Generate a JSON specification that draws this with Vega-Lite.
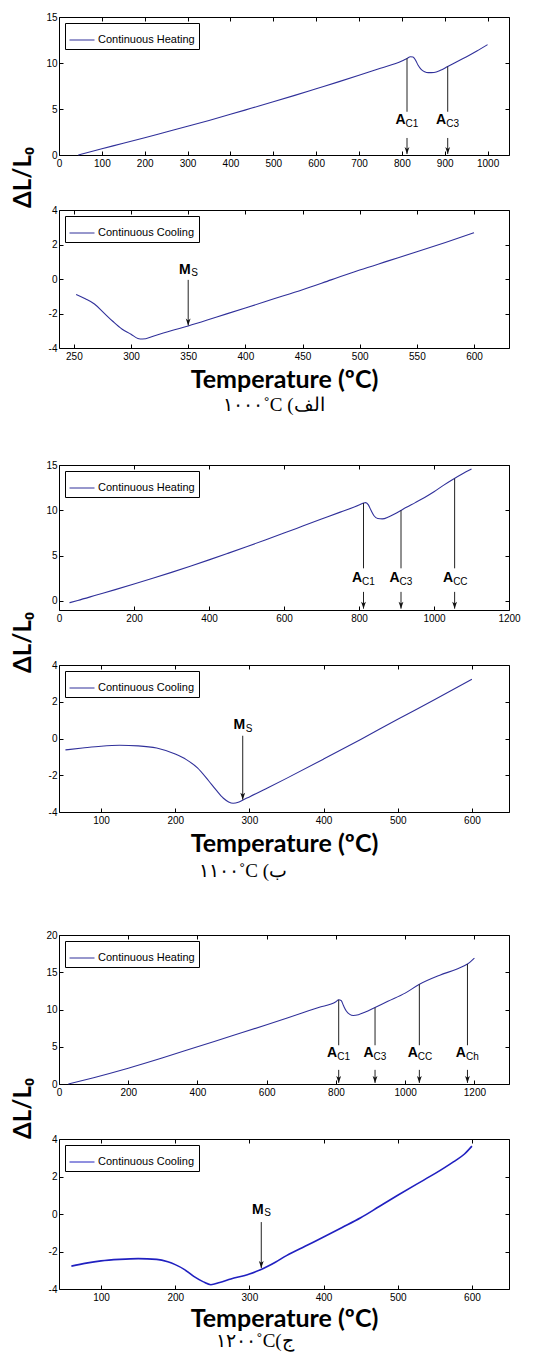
{
"$schema": "https://vega.github.io/schema/vega-lite/v6.json",
"background": "white",
"padding": {"left": 10, "top": 11, "right": 5, "bottom": 5},
"spacing": 55,
"bounds": "flush",
"resolve": {"scale": {"x": "independent", "y": "independent", "color": "independent"}, "legend": {"color": "independent"}, "axis": {"x": "independent", "y": "independent"}},
"datasets": {
"h1000": [{"T":45,"y":0},{"T":100,"y":0.68},{"T":150,"y":1.27},{"T":200,"y":1.88},{"T":250,"y":2.5},{"T":300,"y":3.12},{"T":350,"y":3.76},{"T":400,"y":4.42},{"T":450,"y":5.1},{"T":500,"y":5.78},{"T":550,"y":6.48},{"T":600,"y":7.2},{"T":650,"y":7.92},{"T":700,"y":8.66},{"T":750,"y":9.42},{"T":800,"y":10.22},{"T":812,"y":10.5},{"T":820,"y":10.68},{"T":826,"y":10.65},{"T":832,"y":10.3},{"T":838,"y":9.75},{"T":845,"y":9.3},{"T":853,"y":9.05},{"T":862,"y":8.95},{"T":875,"y":8.97},{"T":890,"y":9.2},{"T":907,"y":9.62},{"T":925,"y":10.05},{"T":950,"y":10.65},{"T":975,"y":11.3},{"T":1000,"y":12.0}],
"c1000": [{"T":252,"y":-0.9},{"T":260,"y":-1.15},{"T":268,"y":-1.45},{"T":276,"y":-1.95},{"T":284,"y":-2.45},{"T":292,"y":-2.9},{"T":300,"y":-3.2},{"T":306,"y":-3.45},{"T":310,"y":-3.48},{"T":320,"y":-3.3},{"T":335,"y":-3.0},{"T":350,"y":-2.72},{"T":375,"y":-2.2},{"T":400,"y":-1.68},{"T":425,"y":-1.15},{"T":450,"y":-0.62},{"T":475,"y":-0.05},{"T":500,"y":0.52},{"T":525,"y":1.05},{"T":550,"y":1.58},{"T":575,"y":2.12},{"T":600,"y":2.68}],
"h1100": [{"T":28,"y":-0.2},{"T":50,"y":0.05},{"T":100,"y":0.65},{"T":150,"y":1.25},{"T":200,"y":1.87},{"T":250,"y":2.5},{"T":300,"y":3.15},{"T":350,"y":3.83},{"T":400,"y":4.53},{"T":450,"y":5.25},{"T":500,"y":5.98},{"T":550,"y":6.73},{"T":600,"y":7.49},{"T":650,"y":8.26},{"T":700,"y":9.03},{"T":750,"y":9.8},{"T":800,"y":10.58},{"T":812,"y":10.8},{"T":818,"y":10.85},{"T":825,"y":10.6},{"T":832,"y":10.0},{"T":840,"y":9.4},{"T":850,"y":9.1},{"T":862,"y":9.05},{"T":880,"y":9.3},{"T":900,"y":9.7},{"T":925,"y":10.3},{"T":950,"y":10.85},{"T":975,"y":11.42},{"T":1000,"y":12.05},{"T":1025,"y":12.75},{"T":1050,"y":13.4},{"T":1075,"y":14.0},{"T":1100,"y":14.55}],
"c1100": [{"T":52,"y":-0.62},{"T":75,"y":-0.52},{"T":100,"y":-0.42},{"T":125,"y":-0.37},{"T":150,"y":-0.4},{"T":175,"y":-0.52},{"T":200,"y":-0.85},{"T":215,"y":-1.15},{"T":230,"y":-1.6},{"T":245,"y":-2.3},{"T":255,"y":-2.8},{"T":265,"y":-3.25},{"T":272,"y":-3.45},{"T":278,"y":-3.52},{"T":285,"y":-3.47},{"T":292,"y":-3.33},{"T":300,"y":-3.18},{"T":325,"y":-2.68},{"T":350,"y":-2.17},{"T":400,"y":-1.12},{"T":450,"y":-0.05},{"T":500,"y":1.05},{"T":550,"y":2.12},{"T":600,"y":3.22}],
"h1200": [{"T":27,"y":0},{"T":100,"y":0.85},{"T":200,"y":2.12},{"T":300,"y":3.52},{"T":400,"y":5.0},{"T":500,"y":6.47},{"T":600,"y":7.95},{"T":700,"y":9.5},{"T":750,"y":10.27},{"T":800,"y":11.05},{"T":808,"y":11.3},{"T":815,"y":11.2},{"T":822,"y":10.5},{"T":830,"y":9.8},{"T":840,"y":9.35},{"T":850,"y":9.2},{"T":865,"y":9.3},{"T":885,"y":9.65},{"T":910,"y":10.2},{"T":950,"y":11.1},{"T":1000,"y":12.2},{"T":1040,"y":13.35},{"T":1100,"y":14.6},{"T":1150,"y":15.45},{"T":1180,"y":16.1},{"T":1200,"y":16.9}],
"c1200": [{"T":60,"y":-2.78},{"T":80,"y":-2.62},{"T":100,"y":-2.5},{"T":125,"y":-2.42},{"T":150,"y":-2.38},{"T":175,"y":-2.42},{"T":190,"y":-2.55},{"T":200,"y":-2.7},{"T":212,"y":-2.95},{"T":225,"y":-3.33},{"T":238,"y":-3.62},{"T":248,"y":-3.77},{"T":260,"y":-3.65},{"T":275,"y":-3.47},{"T":300,"y":-3.2},{"T":318,"y":-2.92},{"T":335,"y":-2.57},{"T":350,"y":-2.22},{"T":375,"y":-1.72},{"T":400,"y":-1.23},{"T":425,"y":-0.72},{"T":450,"y":-0.2},{"T":475,"y":0.4},{"T":500,"y":1.0},{"T":525,"y":1.58},{"T":550,"y":2.15},{"T":575,"y":2.78},{"T":590,"y":3.2},{"T":600,"y":3.62}],
"ann": [
{"p":1,"T":812,"top":10.5,"bot":4.7,"lab":3.8,"a1":1.85,"a2":0.1,"main":"A","sub":"C1"},
{"p":1,"T":907,"top":9.62,"bot":4.7,"lab":3.8,"a1":1.85,"a2":0.1,"main":"A","sub":"C3"},
{"p":2,"T":350,"top":null,"bot":null,"lab":0.55,"a1":-0.05,"a2":-2.7,"main":"M","sub":"S"},
{"p":3,"T":812,"top":10.8,"bot":3.6,"lab":2.5,"a1":1.0,"a2":-0.85,"main":"A","sub":"C1"},
{"p":3,"T":912,"top":10.0,"bot":3.6,"lab":2.5,"a1":1.0,"a2":-0.85,"main":"A","sub":"C3"},
{"p":3,"T":1055,"top":13.5,"bot":3.6,"lab":2.5,"a1":1.0,"a2":-0.85,"main":"A","sub":"CC"},
{"p":4,"T":291,"top":null,"bot":null,"lab":0.73,"a1":0.15,"a2":-3.33,"main":"M","sub":"S"},
{"p":5,"T":808,"top":11.3,"bot":5.2,"lab":4.1,"a1":1.9,"a2":0.15,"main":"A","sub":"C1"},
{"p":5,"T":913,"top":10.25,"bot":5.2,"lab":4.1,"a1":1.9,"a2":0.15,"main":"A","sub":"C3"},
{"p":5,"T":1041,"top":13.38,"bot":5.2,"lab":4.1,"a1":1.9,"a2":0.15,"main":"A","sub":"CC"},
{"p":5,"T":1180,"top":16.1,"bot":5.2,"lab":4.1,"a1":1.9,"a2":0.15,"main":"A","sub":"Ch"},
{"p":6,"T":316,"top":null,"bot":null,"lab":0.23,"a1":-0.43,"a2":-2.88,"main":"M","sub":"S"}
]
},
"vconcat": [
{
"width": 450, "height": 138,
"resolve": {"axis": {"x": "independent", "y": "independent"}},
"layer": [
{"data": {"name": "h1000"}, "mark": {"type": "line", "strokeWidth": 1.1, "interpolate": "monotone"},
 "encoding": {
  "x": {"field": "T", "type": "quantitative", "scale": {"domain": [0, 1050], "nice": false, "zero": false}, "axis": {"orient": "bottom", "values": [0,100,200,300,400,500,600,700,800,900,1000], "title": null}},
  "y": {"field": "y", "type": "quantitative", "scale": {"domain": [0, 15], "nice": false, "zero": false}, "axis": {"orient": "left", "values": [0,5,10,15], "title": "ΔL/L₀", "titleX": -36, "titleY": 160}},
  "color": {"datum": "Continuous Heating", "type": "nominal", "scale": {"range": ["#30309a"]}, "legend": {"title": null}}}},
{"data": {"name": "h1000"}, "mark": {"type": "line", "opacity": 0},
 "encoding": {
  "x": {"field": "T", "type": "quantitative", "scale": {"domain": [0, 1050], "nice": false, "zero": false}, "axis": {"orient": "top", "values": [0,100,200,300,400,500,600,700,800,900,1000], "labels": false, "title": null}},
  "y": {"field": "y", "type": "quantitative", "scale": {"domain": [0, 15], "nice": false, "zero": false}, "axis": {"orient": "right", "values": [0,5,10,15], "labels": false, "title": null}}}},
{"data": {"name": "ann"}, "transform": [{"filter": "datum.p == 1"}], "mark": {"type": "rule", "color": "#222", "strokeWidth": 1},
 "encoding": {"x": {"field": "T", "type": "quantitative", "scale": {"domain": [0, 1050], "nice": false, "zero": false}, "axis": null}, "y": {"field": "top", "type": "quantitative", "scale": {"domain": [0, 15], "nice": false, "zero": false}, "axis": null}, "y2": {"field": "bot"}}},
{"data": {"name": "ann"}, "transform": [{"filter": "datum.p == 1"}], "mark": {"type": "rule", "color": "#222", "strokeWidth": 1},
 "encoding": {"x": {"field": "T", "type": "quantitative", "scale": {"domain": [0, 1050], "nice": false, "zero": false}, "axis": null}, "y": {"field": "a1", "type": "quantitative", "scale": {"domain": [0, 15], "nice": false, "zero": false}, "axis": null}, "y2": {"field": "a2"}}},
{"data": {"name": "ann"}, "transform": [{"filter": "datum.p == 1"}], "mark": {"type": "point", "shape": "M-1.2,-3.5L0,0L1.2,-3.5L0,-2.6Z", "size": 16, "filled": true, "color": "#111", "opacity": 1},
 "encoding": {"x": {"field": "T", "type": "quantitative", "scale": {"domain": [0, 1050], "nice": false, "zero": false}, "axis": null}, "y": {"field": "a2", "type": "quantitative", "scale": {"domain": [0, 15], "nice": false, "zero": false}, "axis": null}}},
{"data": {"name": "ann"}, "transform": [{"filter": "datum.p == 1"}], "mark": {"type": "text", "font": "Liberation Sans", "fontWeight": "bold", "fontSize": 14, "align": "right", "baseline": "middle", "dx": -1.5, "color": "black"},
 "encoding": {"x": {"field": "T", "type": "quantitative", "scale": {"domain": [0, 1050], "nice": false, "zero": false}, "axis": null}, "y": {"field": "lab", "type": "quantitative", "scale": {"domain": [0, 15], "nice": false, "zero": false}, "axis": null}, "text": {"field": "main"}}},
{"data": {"name": "ann"}, "transform": [{"filter": "datum.p == 1"}], "mark": {"type": "text", "font": "Liberation Sans Narrow, Liberation Sans", "fontSize": 10, "align": "left", "baseline": "middle", "dx": -1.5, "dy": 3.5, "color": "black"},
 "encoding": {"x": {"field": "T", "type": "quantitative", "scale": {"domain": [0, 1050], "nice": false, "zero": false}, "axis": null}, "y": {"field": "lab", "type": "quantitative", "scale": {"domain": [0, 15], "nice": false, "zero": false}, "axis": null}, "text": {"field": "sub"}}}
]
},
{
"width": 450, "height": 138,
"title": {"text": "۱۰۰۰˚C (الف", "orient": "bottom", "anchor": "middle", "frame": "group", "dx": -10, "offset": 4},
"resolve": {"axis": {"x": "independent", "y": "independent"}},
"layer": [
{"data": {"name": "c1000"}, "mark": {"type": "line", "strokeWidth": 1.1, "interpolate": "monotone"},
 "encoding": {
  "x": {"field": "T", "type": "quantitative", "scale": {"domain": [237, 630.6], "nice": false, "zero": false}, "axis": {"orient": "bottom", "values": [250,300,350,400,450,500,550,600], "title": "Temperature (ºC)"}},
  "y": {"field": "y", "type": "quantitative", "scale": {"domain": [-4, 4], "nice": false, "zero": false}, "axis": {"orient": "left", "values": [-4,-2,0,2,4], "title": null}},
  "color": {"datum": "Continuous Cooling", "type": "nominal", "scale": {"range": ["#30309a"]}, "legend": {"title": null}}}},
{"data": {"name": "c1000"}, "mark": {"type": "line", "opacity": 0},
 "encoding": {
  "x": {"field": "T", "type": "quantitative", "scale": {"domain": [237, 630.6], "nice": false, "zero": false}, "axis": {"orient": "top", "values": [250,300,350,400,450,500,550,600], "labels": false, "title": null}},
  "y": {"field": "y", "type": "quantitative", "scale": {"domain": [-4, 4], "nice": false, "zero": false}, "axis": {"orient": "right", "values": [-4,-2,0,2,4], "labels": false, "title": null}}}},
{"data": {"name": "ann"}, "transform": [{"filter": "datum.p == 2"}], "mark": {"type": "rule", "color": "#222", "strokeWidth": 1},
 "encoding": {"x": {"field": "T", "type": "quantitative", "scale": {"domain": [237, 630.6], "nice": false, "zero": false}, "axis": null}, "y": {"field": "a1", "type": "quantitative", "scale": {"domain": [-4, 4], "nice": false, "zero": false}, "axis": null}, "y2": {"field": "a2"}}},
{"data": {"name": "ann"}, "transform": [{"filter": "datum.p == 2"}], "mark": {"type": "point", "shape": "M-1.2,-3.5L0,0L1.2,-3.5L0,-2.6Z", "size": 16, "filled": true, "color": "#111", "opacity": 1},
 "encoding": {"x": {"field": "T", "type": "quantitative", "scale": {"domain": [237, 630.6], "nice": false, "zero": false}, "axis": null}, "y": {"field": "a2", "type": "quantitative", "scale": {"domain": [-4, 4], "nice": false, "zero": false}, "axis": null}}},
{"data": {"name": "ann"}, "transform": [{"filter": "datum.p == 2"}], "mark": {"type": "text", "font": "Liberation Sans", "fontWeight": "bold", "fontSize": 14, "align": "right", "baseline": "middle", "dx": 2.5, "color": "black"},
 "encoding": {"x": {"field": "T", "type": "quantitative", "scale": {"domain": [237, 630.6], "nice": false, "zero": false}, "axis": null}, "y": {"field": "lab", "type": "quantitative", "scale": {"domain": [-4, 4], "nice": false, "zero": false}, "axis": null}, "text": {"field": "main"}}},
{"data": {"name": "ann"}, "transform": [{"filter": "datum.p == 2"}], "mark": {"type": "text", "font": "Liberation Sans Narrow, Liberation Sans", "fontSize": 10, "align": "left", "baseline": "middle", "dx": 3, "dy": 3.5, "color": "black"},
 "encoding": {"x": {"field": "T", "type": "quantitative", "scale": {"domain": [237, 630.6], "nice": false, "zero": false}, "axis": null}, "y": {"field": "lab", "type": "quantitative", "scale": {"domain": [-4, 4], "nice": false, "zero": false}, "axis": null}, "text": {"field": "sub"}}}
]
},
{"width": 450, "height": 7, "view": {"stroke": null}, "data": {"values": [{"s": 1}]}, "mark": {"type": "point", "opacity": 0}},
{
"width": 450, "height": 145,
"resolve": {"axis": {"x": "independent", "y": "independent"}},
"layer": [
{"data": {"name": "h1100"}, "mark": {"type": "line", "strokeWidth": 1.1, "interpolate": "monotone"},
 "encoding": {
  "x": {"field": "T", "type": "quantitative", "scale": {"domain": [0, 1200], "nice": false, "zero": false}, "axis": {"orient": "bottom", "values": [0,200,400,600,800,1000,1200], "title": null}},
  "y": {"field": "y", "type": "quantitative", "scale": {"domain": [-1, 15], "nice": false, "zero": false}, "axis": {"orient": "left", "values": [0,5,10,15], "title": "ΔL/L₀", "titleX": -36, "titleY": 177}},
  "color": {"datum": "Continuous Heating", "type": "nominal", "scale": {"range": ["#30309a"]}, "legend": {"title": null}}}},
{"data": {"name": "h1100"}, "mark": {"type": "line", "opacity": 0},
 "encoding": {
  "x": {"field": "T", "type": "quantitative", "scale": {"domain": [0, 1200], "nice": false, "zero": false}, "axis": {"orient": "top", "values": [0,200,400,600,800,1000,1200], "labels": false, "title": null}},
  "y": {"field": "y", "type": "quantitative", "scale": {"domain": [-1, 15], "nice": false, "zero": false}, "axis": {"orient": "right", "values": [0,5,10,15], "labels": false, "title": null}}}},
{"data": {"name": "ann"}, "transform": [{"filter": "datum.p == 3"}], "mark": {"type": "rule", "color": "#222", "strokeWidth": 1},
 "encoding": {"x": {"field": "T", "type": "quantitative", "scale": {"domain": [0, 1200], "nice": false, "zero": false}, "axis": null}, "y": {"field": "top", "type": "quantitative", "scale": {"domain": [-1, 15], "nice": false, "zero": false}, "axis": null}, "y2": {"field": "bot"}}},
{"data": {"name": "ann"}, "transform": [{"filter": "datum.p == 3"}], "mark": {"type": "rule", "color": "#222", "strokeWidth": 1},
 "encoding": {"x": {"field": "T", "type": "quantitative", "scale": {"domain": [0, 1200], "nice": false, "zero": false}, "axis": null}, "y": {"field": "a1", "type": "quantitative", "scale": {"domain": [-1, 15], "nice": false, "zero": false}, "axis": null}, "y2": {"field": "a2"}}},
{"data": {"name": "ann"}, "transform": [{"filter": "datum.p == 3"}], "mark": {"type": "point", "shape": "M-1.2,-3.5L0,0L1.2,-3.5L0,-2.6Z", "size": 16, "filled": true, "color": "#111", "opacity": 1},
 "encoding": {"x": {"field": "T", "type": "quantitative", "scale": {"domain": [0, 1200], "nice": false, "zero": false}, "axis": null}, "y": {"field": "a2", "type": "quantitative", "scale": {"domain": [-1, 15], "nice": false, "zero": false}, "axis": null}}},
{"data": {"name": "ann"}, "transform": [{"filter": "datum.p == 3"}], "mark": {"type": "text", "font": "Liberation Sans", "fontWeight": "bold", "fontSize": 14, "align": "right", "baseline": "middle", "dx": -1.5, "color": "black"},
 "encoding": {"x": {"field": "T", "type": "quantitative", "scale": {"domain": [0, 1200], "nice": false, "zero": false}, "axis": null}, "y": {"field": "lab", "type": "quantitative", "scale": {"domain": [-1, 15], "nice": false, "zero": false}, "axis": null}, "text": {"field": "main"}}},
{"data": {"name": "ann"}, "transform": [{"filter": "datum.p == 3"}], "mark": {"type": "text", "font": "Liberation Sans Narrow, Liberation Sans", "fontSize": 10, "align": "left", "baseline": "middle", "dx": -1.5, "dy": 3.5, "color": "black"},
 "encoding": {"x": {"field": "T", "type": "quantitative", "scale": {"domain": [0, 1200], "nice": false, "zero": false}, "axis": null}, "y": {"field": "lab", "type": "quantitative", "scale": {"domain": [-1, 15], "nice": false, "zero": false}, "axis": null}, "text": {"field": "sub"}}}
]
},
{
"width": 450, "height": 147,
"title": {"text": "۱۱۰۰˚C (ب", "orient": "bottom", "anchor": "middle", "frame": "group", "dx": -41, "offset": 6},
"resolve": {"axis": {"x": "independent", "y": "independent"}},
"layer": [
{"data": {"name": "c1100"}, "mark": {"type": "line", "strokeWidth": 1.1, "interpolate": "monotone"},
 "encoding": {
  "x": {"field": "T", "type": "quantitative", "scale": {"domain": [43.3, 650], "nice": false, "zero": false}, "axis": {"orient": "bottom", "values": [100,200,300,400,500,600], "title": "Temperature (ºC)"}},
  "y": {"field": "y", "type": "quantitative", "scale": {"domain": [-4, 4], "nice": false, "zero": false}, "axis": {"orient": "left", "values": [-4,-2,0,2,4], "title": null}},
  "color": {"datum": "Continuous Cooling", "type": "nominal", "scale": {"range": ["#30309a"]}, "legend": {"title": null}}}},
{"data": {"name": "c1100"}, "mark": {"type": "line", "opacity": 0},
 "encoding": {
  "x": {"field": "T", "type": "quantitative", "scale": {"domain": [43.3, 650], "nice": false, "zero": false}, "axis": {"orient": "top", "values": [100,200,300,400,500,600], "labels": false, "title": null}},
  "y": {"field": "y", "type": "quantitative", "scale": {"domain": [-4, 4], "nice": false, "zero": false}, "axis": {"orient": "right", "values": [-4,-2,0,2,4], "labels": false, "title": null}}}},
{"data": {"name": "ann"}, "transform": [{"filter": "datum.p == 4"}], "mark": {"type": "rule", "color": "#222", "strokeWidth": 1},
 "encoding": {"x": {"field": "T", "type": "quantitative", "scale": {"domain": [43.3, 650], "nice": false, "zero": false}, "axis": null}, "y": {"field": "a1", "type": "quantitative", "scale": {"domain": [-4, 4], "nice": false, "zero": false}, "axis": null}, "y2": {"field": "a2"}}},
{"data": {"name": "ann"}, "transform": [{"filter": "datum.p == 4"}], "mark": {"type": "point", "shape": "M-1.2,-3.5L0,0L1.2,-3.5L0,-2.6Z", "size": 16, "filled": true, "color": "#111", "opacity": 1},
 "encoding": {"x": {"field": "T", "type": "quantitative", "scale": {"domain": [43.3, 650], "nice": false, "zero": false}, "axis": null}, "y": {"field": "a2", "type": "quantitative", "scale": {"domain": [-4, 4], "nice": false, "zero": false}, "axis": null}}},
{"data": {"name": "ann"}, "transform": [{"filter": "datum.p == 4"}], "mark": {"type": "text", "font": "Liberation Sans", "fontWeight": "bold", "fontSize": 14, "align": "right", "baseline": "middle", "dx": 2.5, "color": "black"},
 "encoding": {"x": {"field": "T", "type": "quantitative", "scale": {"domain": [43.3, 650], "nice": false, "zero": false}, "axis": null}, "y": {"field": "lab", "type": "quantitative", "scale": {"domain": [-4, 4], "nice": false, "zero": false}, "axis": null}, "text": {"field": "main"}}},
{"data": {"name": "ann"}, "transform": [{"filter": "datum.p == 4"}], "mark": {"type": "text", "font": "Liberation Sans Narrow, Liberation Sans", "fontSize": 10, "align": "left", "baseline": "middle", "dx": 3, "dy": 3.5, "color": "black"},
 "encoding": {"x": {"field": "T", "type": "quantitative", "scale": {"domain": [43.3, 650], "nice": false, "zero": false}, "axis": null}, "y": {"field": "lab", "type": "quantitative", "scale": {"domain": [-4, 4], "nice": false, "zero": false}, "axis": null}, "text": {"field": "sub"}}}
]
},
{"width": 450, "height": 13, "view": {"stroke": null}, "data": {"values": [{"s": 1}]}, "mark": {"type": "point", "opacity": 0}},
{
"width": 450, "height": 149,
"resolve": {"axis": {"x": "independent", "y": "independent"}},
"layer": [
{"data": {"name": "h1200"}, "mark": {"type": "line", "strokeWidth": 1.1, "interpolate": "monotone"},
 "encoding": {
  "x": {"field": "T", "type": "quantitative", "scale": {"domain": [0, 1300], "nice": false, "zero": false}, "axis": {"orient": "bottom", "values": [0,200,400,600,800,1000,1200], "title": null}},
  "y": {"field": "y", "type": "quantitative", "scale": {"domain": [0, 20], "nice": false, "zero": false}, "axis": {"orient": "left", "values": [0,5,10,15,20], "title": "ΔL/L₀", "titleX": -36, "titleY": 173}},
  "color": {"datum": "Continuous Heating", "type": "nominal", "scale": {"range": ["#30309a"]}, "legend": {"title": null}}}},
{"data": {"name": "h1200"}, "mark": {"type": "line", "opacity": 0},
 "encoding": {
  "x": {"field": "T", "type": "quantitative", "scale": {"domain": [0, 1300], "nice": false, "zero": false}, "axis": {"orient": "top", "values": [0,200,400,600,800,1000,1200], "labels": false, "title": null}},
  "y": {"field": "y", "type": "quantitative", "scale": {"domain": [0, 20], "nice": false, "zero": false}, "axis": {"orient": "right", "values": [0,5,10,15,20], "labels": false, "title": null}}}},
{"data": {"name": "ann"}, "transform": [{"filter": "datum.p == 5"}], "mark": {"type": "rule", "color": "#222", "strokeWidth": 1},
 "encoding": {"x": {"field": "T", "type": "quantitative", "scale": {"domain": [0, 1300], "nice": false, "zero": false}, "axis": null}, "y": {"field": "top", "type": "quantitative", "scale": {"domain": [0, 20], "nice": false, "zero": false}, "axis": null}, "y2": {"field": "bot"}}},
{"data": {"name": "ann"}, "transform": [{"filter": "datum.p == 5"}], "mark": {"type": "rule", "color": "#222", "strokeWidth": 1},
 "encoding": {"x": {"field": "T", "type": "quantitative", "scale": {"domain": [0, 1300], "nice": false, "zero": false}, "axis": null}, "y": {"field": "a1", "type": "quantitative", "scale": {"domain": [0, 20], "nice": false, "zero": false}, "axis": null}, "y2": {"field": "a2"}}},
{"data": {"name": "ann"}, "transform": [{"filter": "datum.p == 5"}], "mark": {"type": "point", "shape": "M-1.2,-3.5L0,0L1.2,-3.5L0,-2.6Z", "size": 16, "filled": true, "color": "#111", "opacity": 1},
 "encoding": {"x": {"field": "T", "type": "quantitative", "scale": {"domain": [0, 1300], "nice": false, "zero": false}, "axis": null}, "y": {"field": "a2", "type": "quantitative", "scale": {"domain": [0, 20], "nice": false, "zero": false}, "axis": null}}},
{"data": {"name": "ann"}, "transform": [{"filter": "datum.p == 5"}], "mark": {"type": "text", "font": "Liberation Sans", "fontWeight": "bold", "fontSize": 14, "align": "right", "baseline": "middle", "dx": -1.5, "color": "black"},
 "encoding": {"x": {"field": "T", "type": "quantitative", "scale": {"domain": [0, 1300], "nice": false, "zero": false}, "axis": null}, "y": {"field": "lab", "type": "quantitative", "scale": {"domain": [0, 20], "nice": false, "zero": false}, "axis": null}, "text": {"field": "main"}}},
{"data": {"name": "ann"}, "transform": [{"filter": "datum.p == 5"}], "mark": {"type": "text", "font": "Liberation Sans Narrow, Liberation Sans", "fontSize": 10, "align": "left", "baseline": "middle", "dx": -1.5, "dy": 3.5, "color": "black"},
 "encoding": {"x": {"field": "T", "type": "quantitative", "scale": {"domain": [0, 1300], "nice": false, "zero": false}, "axis": null}, "y": {"field": "lab", "type": "quantitative", "scale": {"domain": [0, 20], "nice": false, "zero": false}, "axis": null}, "text": {"field": "sub"}}}
]
},
{
"width": 450, "height": 150,
"title": {"text": "۱۲۰۰˚C(ج", "orient": "bottom", "anchor": "middle", "frame": "group", "dx": -29, "offset": 1},
"resolve": {"axis": {"x": "independent", "y": "independent"}},
"layer": [
{"data": {"name": "c1200"}, "mark": {"type": "line", "strokeWidth": 1.6, "interpolate": "monotone"},
 "encoding": {
  "x": {"field": "T", "type": "quantitative", "scale": {"domain": [43.3, 650], "nice": false, "zero": false}, "axis": {"orient": "bottom", "values": [100,200,300,400,500,600], "title": "Temperature (ºC)", "titlePadding": 4}},
  "y": {"field": "y", "type": "quantitative", "scale": {"domain": [-4, 4], "nice": false, "zero": false}, "axis": {"orient": "left", "values": [-4,-2,0,2,4], "title": null}},
  "color": {"datum": "Continuous Cooling", "type": "nominal", "scale": {"range": ["#2020c0"]}, "legend": {"title": null}}}},
{"data": {"name": "c1200"}, "mark": {"type": "line", "opacity": 0},
 "encoding": {
  "x": {"field": "T", "type": "quantitative", "scale": {"domain": [43.3, 650], "nice": false, "zero": false}, "axis": {"orient": "top", "values": [100,200,300,400,500,600], "labels": false, "title": null}},
  "y": {"field": "y", "type": "quantitative", "scale": {"domain": [-4, 4], "nice": false, "zero": false}, "axis": {"orient": "right", "values": [-4,-2,0,2,4], "labels": false, "title": null}}}},
{"data": {"name": "ann"}, "transform": [{"filter": "datum.p == 6"}], "mark": {"type": "rule", "color": "#222", "strokeWidth": 1},
 "encoding": {"x": {"field": "T", "type": "quantitative", "scale": {"domain": [43.3, 650], "nice": false, "zero": false}, "axis": null}, "y": {"field": "a1", "type": "quantitative", "scale": {"domain": [-4, 4], "nice": false, "zero": false}, "axis": null}, "y2": {"field": "a2"}}},
{"data": {"name": "ann"}, "transform": [{"filter": "datum.p == 6"}], "mark": {"type": "point", "shape": "M-1.2,-3.5L0,0L1.2,-3.5L0,-2.6Z", "size": 16, "filled": true, "color": "#111", "opacity": 1},
 "encoding": {"x": {"field": "T", "type": "quantitative", "scale": {"domain": [43.3, 650], "nice": false, "zero": false}, "axis": null}, "y": {"field": "a2", "type": "quantitative", "scale": {"domain": [-4, 4], "nice": false, "zero": false}, "axis": null}}},
{"data": {"name": "ann"}, "transform": [{"filter": "datum.p == 6"}], "mark": {"type": "text", "font": "Liberation Sans", "fontWeight": "bold", "fontSize": 14, "align": "right", "baseline": "middle", "dx": 2.5, "color": "black"},
 "encoding": {"x": {"field": "T", "type": "quantitative", "scale": {"domain": [43.3, 650], "nice": false, "zero": false}, "axis": null}, "y": {"field": "lab", "type": "quantitative", "scale": {"domain": [-4, 4], "nice": false, "zero": false}, "axis": null}, "text": {"field": "main"}}},
{"data": {"name": "ann"}, "transform": [{"filter": "datum.p == 6"}], "mark": {"type": "text", "font": "Liberation Sans Narrow, Liberation Sans", "fontSize": 10, "align": "left", "baseline": "middle", "dx": 3, "dy": 3.5, "color": "black"},
 "encoding": {"x": {"field": "T", "type": "quantitative", "scale": {"domain": [43.3, 650], "nice": false, "zero": false}, "axis": null}, "y": {"field": "lab", "type": "quantitative", "scale": {"domain": [-4, 4], "nice": false, "zero": false}, "axis": null}, "text": {"field": "sub"}}}
]
}
],
"config": {
 "locale": {"number": {"decimal": ".", "thousands": "", "grouping": [3], "currency": ["", ""], "minus": "-"}},
 "view": {"stroke": "black", "strokeWidth": 1},
 "axis": {"domain": false, "grid": false, "ticks": true, "tickColor": "black", "tickSize": -4, "tickWidth": 1, "labelFont": "Liberation Sans", "labelFontSize": 10, "labelColor": "black", "labelOverlap": false, "labelFlush": false, "titleFont": "Lato", "titleFontWeight": "bold", "titleColor": "black"},
 "axisX": {"labelPadding": 7, "titleFontSize": 25, "titlePadding": 6},
 "axisY": {"labelPadding": 6, "titleFontSize": 24, "titleAngle": -90, "titleAlign": "center", "titleBaseline": "middle"},
 "legend": {"orient": "top-left", "offset": 6, "padding": 4, "strokeColor": "black", "fillColor": "white", "cornerRadius": 0, "symbolType": "stroke", "symbolSize": 625, "symbolStrokeWidth": 1, "labelFont": "Liberation Sans", "labelFontSize": 11, "labelColor": "black", "labelOffset": 3},
 "title": {"font": "Liberation Serif", "fontSize": 19, "fontWeight": "normal", "color": "black"}
}
}
